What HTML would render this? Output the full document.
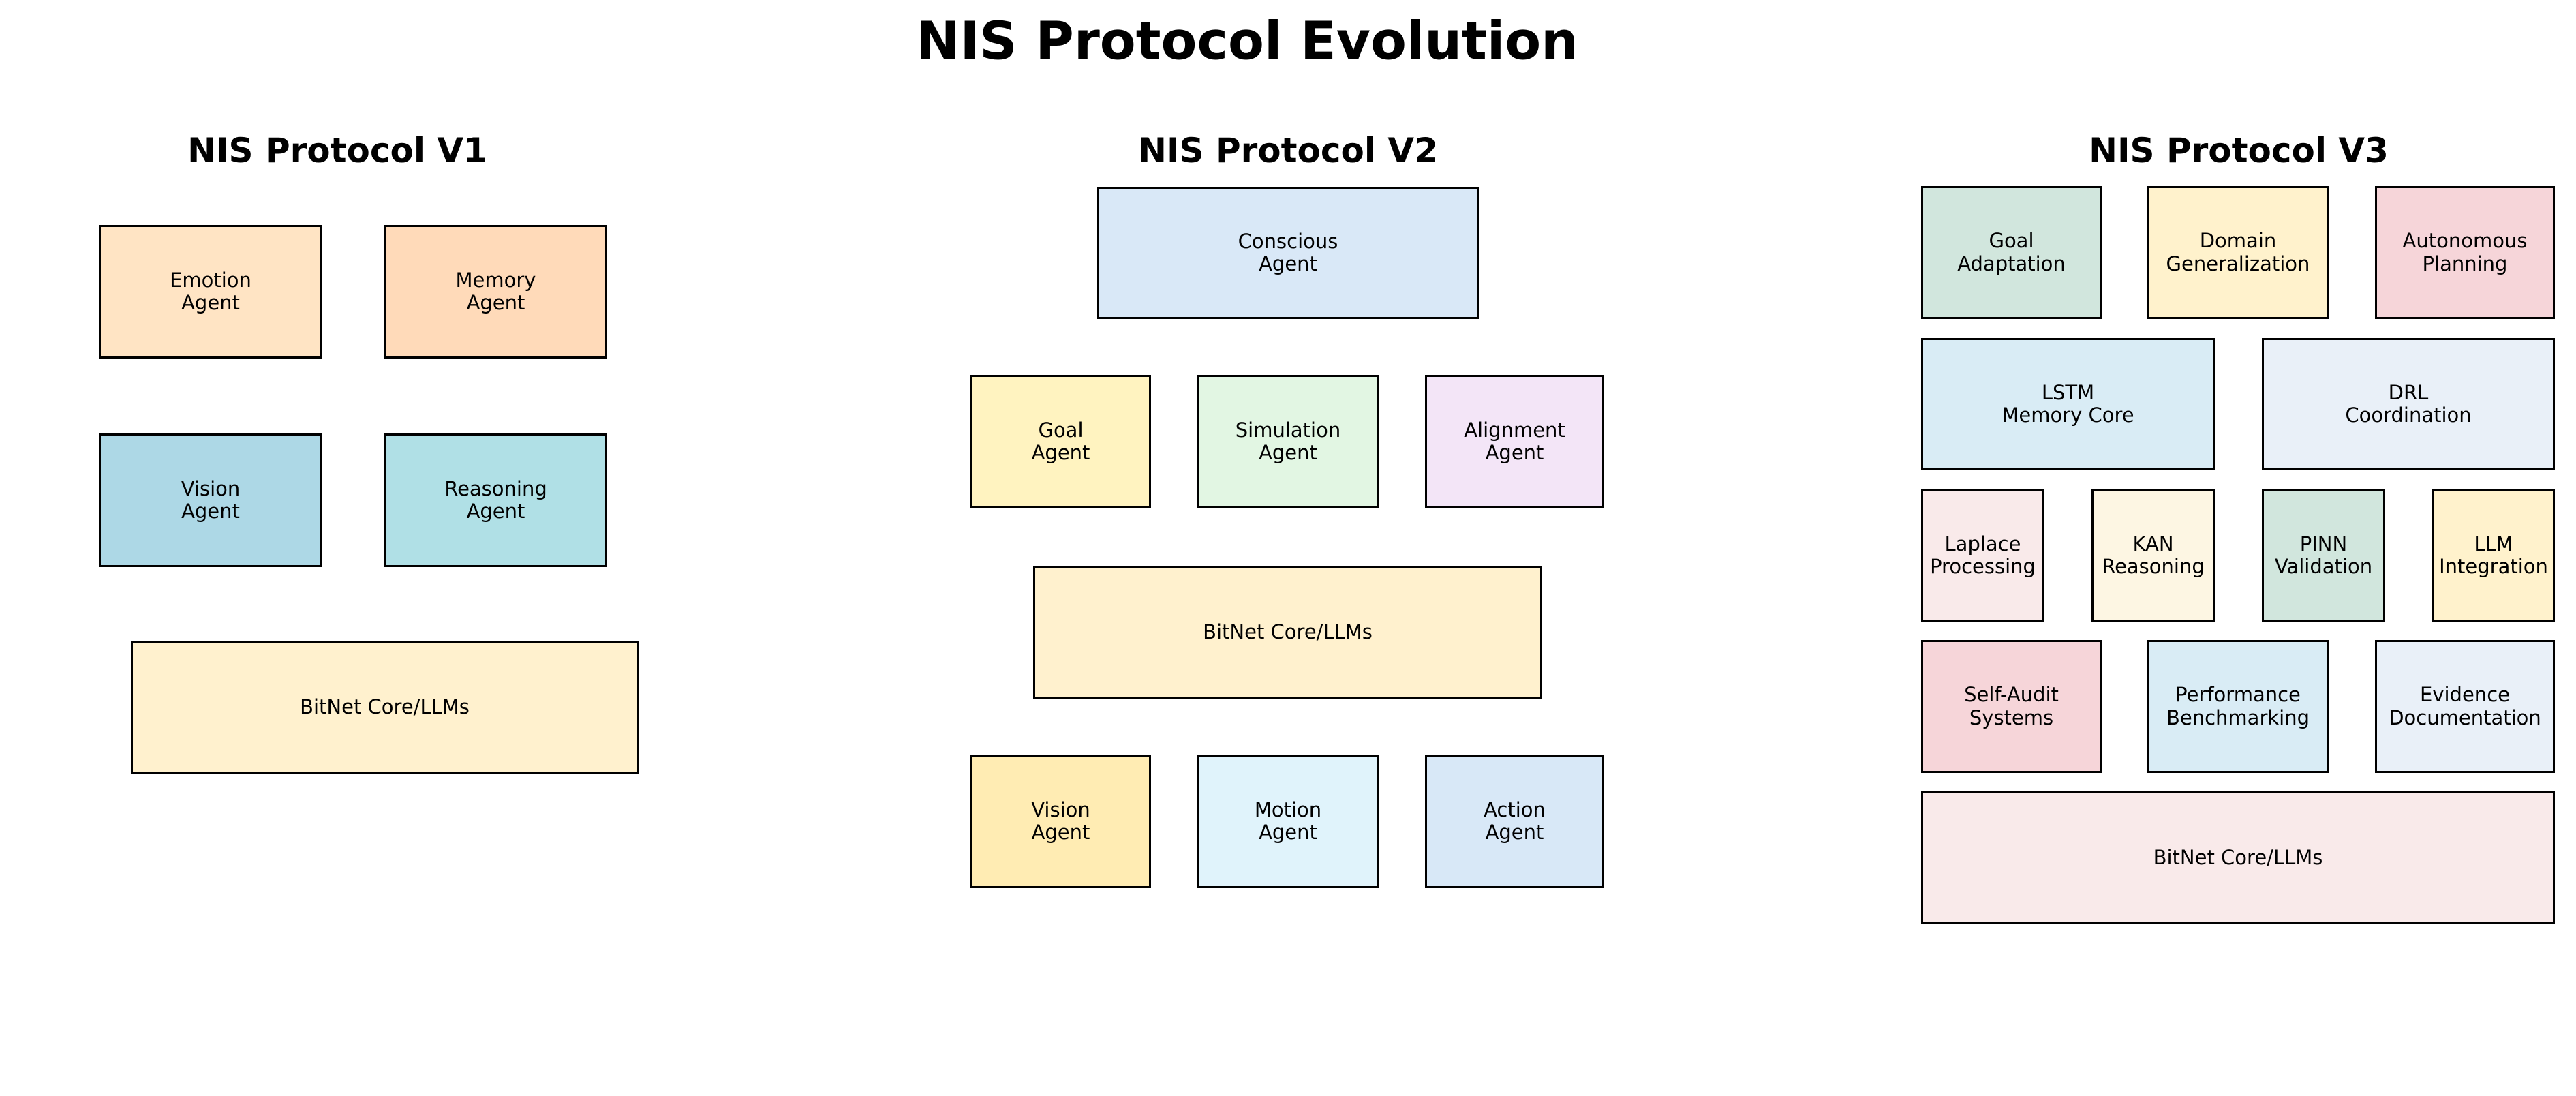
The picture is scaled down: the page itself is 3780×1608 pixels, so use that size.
<!DOCTYPE html>
<html><head><meta charset="utf-8"><style>
body{margin:0;width:3780px;height:1608px;background:#fff;position:relative;overflow:hidden;font-family:"DejaVu Sans","Liberation Sans",sans-serif;}
.b{position:absolute;box-sizing:border-box;border:3px solid #000;display:flex;align-items:center;justify-content:center;text-align:center;font-size:29px;line-height:1.15;color:#000;}
.t{position:absolute;font-weight:bold;text-align:center;transform:translate(-50%,-50%);white-space:nowrap;}
</style></head><body>
<div class="t" style="left:1830px;top:61px;font-size:77px;">NIS Protocol Evolution</div>
<div class="t" style="left:495px;top:221px;font-size:50px;">NIS Protocol V1</div>
<div class="t" style="left:1890px;top:221px;font-size:50px;">NIS Protocol V2</div>
<div class="t" style="left:3285px;top:221px;font-size:50px;">NIS Protocol V3</div>

<!-- V1 -->
<div class="b" style="left:145px;top:330px;width:328px;height:196px;background:#FFE4C4;">Emotion<br>Agent</div>
<div class="b" style="left:564px;top:330px;width:327px;height:196px;background:#FFDAB9;">Memory<br>Agent</div>
<div class="b" style="left:145px;top:636px;width:328px;height:196px;background:#ADD8E6;">Vision<br>Agent</div>
<div class="b" style="left:564px;top:636px;width:327px;height:196px;background:#B0E0E6;">Reasoning<br>Agent</div>
<div class="b" style="left:192px;top:941px;width:745px;height:194px;background:#FFF1CE;">BitNet Core/LLMs</div>

<!-- V2 -->
<div class="b" style="left:1610px;top:274px;width:560px;height:194px;background:#D9E8F7;">Conscious<br>Agent</div>
<div class="b" style="left:1424px;top:550px;width:265px;height:196px;background:#FFF3C0;">Goal<br>Agent</div>
<div class="b" style="left:1757px;top:550px;width:266px;height:196px;background:#E2F6E3;">Simulation<br>Agent</div>
<div class="b" style="left:2091px;top:550px;width:263px;height:196px;background:#F3E5F7;">Alignment<br>Agent</div>
<div class="b" style="left:1516px;top:830px;width:747px;height:195px;background:#FFF1CE;">BitNet Core/LLMs</div>
<div class="b" style="left:1424px;top:1107px;width:265px;height:196px;background:#FFECB3;">Vision<br>Agent</div>
<div class="b" style="left:1757px;top:1107px;width:266px;height:196px;background:#E0F3FB;">Motion<br>Agent</div>
<div class="b" style="left:2091px;top:1107px;width:263px;height:196px;background:#D8E8F7;">Action<br>Agent</div>

<!-- V3 -->
<div class="b" style="left:2819px;top:273px;width:265px;height:195px;background:#D1E6DD;">Goal<br>Adaptation</div>
<div class="b" style="left:3151px;top:273px;width:266px;height:195px;background:#FFF2CC;">Domain<br>Generalization</div>
<div class="b" style="left:3485px;top:273px;width:264px;height:195px;background:#F6D5D9;">Autonomous<br>Planning</div>
<div class="b" style="left:2819px;top:496px;width:431px;height:194px;background:#D9ECF5;">LSTM<br>Memory Core</div>
<div class="b" style="left:3319px;top:496px;width:430px;height:194px;background:#E9F0F8;">DRL<br>Coordination</div>
<div class="b" style="left:2819px;top:718px;width:181px;height:194px;background:#F9EAEA;">Laplace<br>Processing</div>
<div class="b" style="left:3069px;top:718px;width:181px;height:194px;background:#FDF6E3;">KAN<br>Reasoning</div>
<div class="b" style="left:3319px;top:718px;width:181px;height:194px;background:#D1E6DD;">PINN<br>Validation</div>
<div class="b" style="left:3569px;top:718px;width:180px;height:194px;background:#FFF2CC;">LLM<br>Integration</div>
<div class="b" style="left:2819px;top:939px;width:265px;height:195px;background:#F6D5D9;">Self-Audit<br>Systems</div>
<div class="b" style="left:3151px;top:939px;width:266px;height:195px;background:#D9ECF5;">Performance<br>Benchmarking</div>
<div class="b" style="left:3485px;top:939px;width:264px;height:195px;background:#E9F0F8;">Evidence<br>Documentation</div>
<div class="b" style="left:2819px;top:1161px;width:930px;height:195px;background:#F9EAEA;">BitNet Core/LLMs</div>
</body></html>
